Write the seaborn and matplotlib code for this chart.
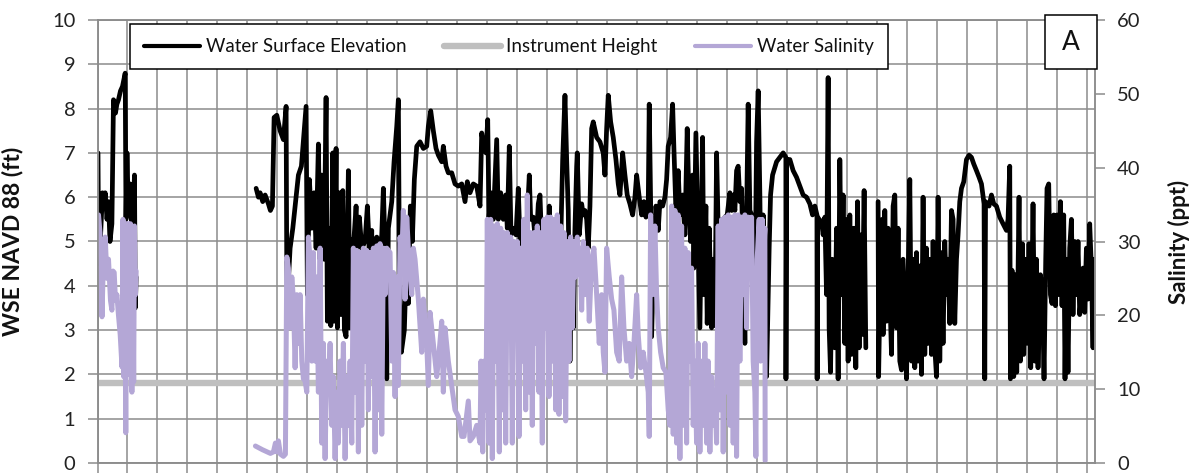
import numpy as np
import pandas as pd
import matplotlib
matplotlib.use("Agg")
import matplotlib.pyplot as plt
from matplotlib.lines import Line2D
from matplotlib.patches import Rectangle
import seaborn as sns

# ---------------- data (day, value) ----------------
# Water surface elevation (ft NAVD88)
wse_seg1 = [(0.05, 7.0), (0.12, 4.5), (0.3, 5.1), (0.5, 6.1), (0.62, 5.8), (0.77, 6.1), (0.95, 5.5),
            (1.1, 5.9), (1.25, 5.0), (1.44, 5.4), (1.6, 8.2), (1.8, 7.9), (1.94, 8.1), (2.1, 8.2),
            (2.3, 8.4), (2.5, 8.5), (2.77, 8.8), (2.85, 5.5), (2.95, 7.0), (3.1, 5.6), (3.27, 6.3),
            (3.4, 5.4), (3.54, 5.5), (3.7, 6.5), (3.78, 3.5), (3.87, 4.2)]

wse_seg2 = [(15.87, 6.2), (16.1, 6.0), (16.27, 6.1), (16.53, 5.9), (16.77, 6.05), (17.1, 5.85), (17.3, 5.7),
            (17.5, 5.8), (17.67, 7.8), (17.94, 7.85), (18.27, 7.5), (18.6, 7.3), (18.87, 8.05), (18.93, 4.7),
            (19.0, 3.7), (19.27, 4.85), (19.54, 5.3), (19.77, 5.8), (20.1, 6.5), (20.4, 6.7), (20.87, 8.05),
            (21.0, 3.8), (21.2, 6.4), (21.44, 5.3), (21.67, 6.1), (21.87, 4.85), (22.1, 7.2), (22.27, 4.6),
            (22.44, 6.5), (22.67, 4.6), (22.87, 8.25), (23.0, 3.2), (23.2, 5.3), (23.34, 3.1), (23.54, 7.0),
            (23.67, 3.2), (23.87, 7.1), (24.0, 3.05), (24.2, 6.1), (24.34, 3.35), (24.54, 6.15), (24.7, 3.0),
            (24.87, 2.85), (25.1, 6.6), (25.27, 3.05), (25.44, 5.05), (25.6, 4.85), (25.87, 5.8), (26.0, 4.85),
            (26.2, 5.55), (26.44, 4.85), (26.77, 5.0), (27.0, 5.8), (27.2, 4.85), (27.44, 5.25), (27.45, 2.8),
            (27.67, 5.0), (27.94, 5.1), (28.2, 4.7), (28.44, 5.15), (28.6, 6.2), (28.77, 4.85), (28.94, 1.9),
            (29.1, 5.3), (29.44, 5.9), (29.67, 6.8), (29.94, 7.6), (30.1, 8.2), (30.2, 4.6), (30.4, 2.5),
            (30.7, 3.0), (30.9, 4.5), (31.1, 3.6), (31.3, 5.8), (31.5, 5.0), (31.7, 6.4), (31.94, 7.15),
            (32.27, 7.25), (32.6, 7.1), (32.94, 7.15), (33.1, 7.6), (33.34, 7.95), (33.6, 7.5), (33.87, 7.1),
            (34.1, 6.95), (34.44, 6.8), (34.6, 7.15), (34.87, 6.7), (35.1, 6.55), (35.44, 6.55), (35.77, 6.3),
            (36.1, 6.25), (36.44, 6.3), (36.77, 5.9), (37.0, 6.35), (37.27, 6.1), (37.6, 6.3), (37.94, 6.25),
            (38.27, 5.8), (38.44, 7.45), (38.67, 7.1), (38.87, 7.0), (39.04, 7.75), (39.17, 5.55), (39.37, 6.1),
            (39.6, 5.5), (39.94, 7.3), (40.1, 5.5), (40.34, 6.1), (40.6, 5.5), (40.84, 6.05), (41.0, 5.3),
            (41.2, 7.15), (41.37, 5.15), (41.6, 5.3), (41.87, 5.15), (42.1, 6.2), (42.27, 5.0), (42.54, 4.85),
            (42.77, 5.15), (43.0, 5.55), (43.2, 6.5), (43.34, 5.5), (43.6, 5.55), (43.87, 4.85), (44.1, 5.85),
            (44.27, 6.05), (44.44, 4.95), (44.6, 5.15), (44.94, 5.5), (45.1, 3.4), (45.2, 5.8), (45.44, 3.2),
            (45.67, 4.1), (45.87, 5.3), (46.1, 5.35), (46.34, 4.95), (46.54, 6.85), (46.77, 8.3), (46.94, 6.85),
            (47.1, 5.7), (47.27, 2.3), (47.44, 4.6), (47.6, 3.05), (47.77, 5.3), (47.94, 6.7), (48.0, 7.0),
            (48.2, 5.15), (48.44, 5.85), (48.6, 5.6), (48.77, 5.7), (48.94, 5.5), (49.1, 4.85), (49.27, 5.8),
            (49.44, 7.55), (49.6, 7.7), (49.94, 7.35), (50.27, 7.25), (50.6, 7.0), (50.77, 6.5), (50.94, 7.55),
            (51.1, 8.3), (51.34, 7.7), (51.6, 7.35), (51.87, 6.85), (52.1, 6.3), (52.27, 6.05), (52.54, 7.0),
            (52.77, 6.5), (53.0, 6.05), (53.27, 5.85), (53.54, 5.6), (53.77, 6.0), (53.94, 6.5), (54.2, 6.0),
            (54.44, 5.6), (54.67, 5.9), (54.87, 5.55), (55.1, 5.8), (55.2, 8.1), (55.34, 5.9), (55.44, 2.85),
            (55.6, 4.4), (55.87, 5.8), (56.1, 5.25), (56.27, 5.9), (56.54, 5.8), (56.77, 6.0), (56.94, 6.4),
            (57.1, 7.15), (57.34, 7.35), (57.54, 8.1), (57.67, 7.1), (57.87, 5.7), (58.1, 6.6), (58.27, 5.6),
            (58.54, 6.05), (58.77, 5.15), (59.0, 7.55), (59.2, 5.7), (59.34, 5.0), (59.54, 6.5), (59.67, 4.4),
            (59.87, 7.45), (60.1, 4.85), (60.27, 3.05), (60.54, 7.35), (60.67, 3.8), (60.87, 5.8), (61.0, 3.15),
            (61.2, 5.3), (61.44, 3.05), (61.6, 4.6), (61.77, 3.1), (61.94, 7.0), (62.1, 5.3), (62.27, 5.5),
            (62.54, 5.3), (62.77, 5.55), (63.0, 5.6), (63.27, 6.1), (63.44, 5.7), (63.6, 6.05), (63.77, 5.7),
            (63.94, 6.6), (64.1, 6.7), (64.27, 5.9), (64.44, 6.2), (64.67, 3.8), (64.77, 2.7), (64.94, 5.6),
            (65.1, 8.1), (65.27, 5.7), (65.54, 5.55), (65.77, 3.7), (65.94, 7.25), (66.1, 8.4), (66.27, 6.05),
            (66.44, 2.9), (66.6, 5.6), (66.77, 4.6), (66.94, 1.95), (67.2, 4.85), (67.34, 6.05), (67.54, 6.5),
            (67.94, 6.8), (68.27, 6.9), (68.6, 7.0), (68.87, 6.9), (68.88, 1.9), (68.95, 6.85), (69.27, 6.85),
            (69.6, 6.6), (69.94, 6.45), (70.27, 6.25), (70.6, 6.05), (70.94, 6.0), (71.27, 5.85), (71.54, 5.6),
            (71.77, 5.8), (71.98, 5.6), (72.0, 1.9), (72.05, 5.55), (72.2, 5.5), (72.44, 5.45), (72.6, 5.15),
            (72.77, 5.55), (72.94, 3.8), (73.1, 8.7), (73.2, 3.05), (73.34, 2.05), (73.5, 4.6), (73.77, 2.6),
            (73.94, 5.3), (74.1, 1.9), (74.27, 6.85), (74.44, 3.8), (74.6, 6.05), (74.77, 2.7), (74.94, 5.5),
            (75.1, 2.3), (75.27, 5.6), (75.44, 2.45), (75.67, 5.3), (75.87, 2.15), (76.04, 5.9), (76.2, 2.6),
            (76.34, 5.15), (76.5, 2.9), (76.7, 6.15), (76.87, 2.6)]

wse_seg3 = [(78.1, 5.9), (78.15, 1.95), (78.3, 4.0), (78.5, 5.5), (78.6, 2.9), (78.77, 5.7), (78.94, 3.2),
            (79.1, 5.3), (79.27, 3.8), (79.44, 2.45), (79.6, 5.8), (79.77, 6.05), (79.94, 3.05), (80.1, 5.3),
            (80.27, 2.3), (80.44, 2.1), (80.6, 4.6), (80.94, 1.9), (81.1, 4.2), (81.27, 6.4), (81.44, 2.3),
            (81.6, 4.6), (81.77, 2.15), (81.94, 4.75), (82.1, 2.3), (82.27, 4.45), (82.44, 2.0), (82.6, 6.0),
            (82.77, 2.45), (82.94, 4.85), (83.1, 2.7), (83.27, 4.6), (83.44, 2.45), (83.6, 5.0), (83.77, 2.6),
            (83.94, 1.95), (84.1, 6.0), (84.27, 2.3), (84.44, 4.75), (84.6, 2.7), (84.77, 5.0), (84.94, 3.8),
            (85.1, 4.6), (85.27, 3.15), (85.44, 5.7), (85.6, 5.5), (85.77, 3.15), (85.94, 4.6), (86.1, 5.15),
            (86.27, 5.9), (86.44, 6.2), (86.67, 6.35), (86.94, 6.85), (87.2, 6.95), (87.44, 6.9), (87.67, 6.75),
            (87.94, 6.6), (88.2, 6.45), (88.44, 6.3), (88.7, 5.85), (88.77, 1.9), (88.85, 5.9), (89.2, 5.8),
            (89.44, 6.05), (89.67, 5.85), (89.94, 5.8), (90.27, 5.55), (90.6, 5.4), (90.94, 5.25), (91.1, 5.5),
            (91.27, 6.7), (91.34, 1.9), (91.5, 4.35), (91.67, 1.95), (91.84, 4.25), (91.97, 2.05), (92.2, 6.0),
            (92.34, 2.3), (92.54, 4.95), (92.67, 2.45), (92.87, 4.6), (93.04, 2.7), (93.2, 4.95), (93.37, 2.15),
            (93.6, 5.85), (93.77, 2.3), (93.94, 4.6), (94.1, 2.15), (94.34, 4.25), (94.54, 3.8), (94.7, 1.9),
            (94.87, 4.6), (95.0, 6.2), (95.17, 6.3), (95.34, 3.8), (95.5, 3.6), (95.67, 5.6), (95.84, 3.55),
            (96.0, 5.6), (96.17, 3.8), (96.34, 5.9), (96.5, 3.55), (96.67, 5.6), (96.8, 1.9), (96.94, 4.6),
            (97.1, 2.05), (97.27, 4.85), (97.44, 5.5), (97.6, 3.35), (97.77, 5.0), (97.94, 3.8), (98.1, 5.0),
            (98.27, 3.35), (98.44, 3.8), (98.6, 4.4), (98.77, 3.4), (98.94, 4.85), (99.1, 3.7), (99.27, 5.4),
            (99.44, 4.4), (99.6, 2.6), (99.67, 4.6)]

# Water salinity (ppt)
sal_seg1 = [(0.1, 33.6), (0.25, 31.2), (0.45, 19.8), (0.6, 28.0), (0.77, 30.6), (0.95, 25.0), (1.1, 27.6),
            (1.3, 22.0), (1.44, 20.7), (1.55, 26.0), (1.67, 25.8), (1.8, 22.0), (1.94, 22.8), (2.1, 20.0),
            (2.27, 17.4), (2.45, 13.0), (2.55, 33.0), (2.62, 11.7), (2.7, 31.0), (2.83, 4.1), (2.93, 32.4),
            (3.02, 12.0), (3.1, 32.4), (3.2, 13.8), (3.3, 32.4), (3.44, 9.6), (3.52, 31.5), (3.62, 11.0),
            (3.7, 32.1), (3.8, 22.8), (3.87, 26.0)]

sal_seg2 = [(15.8, 2.3), (16.5, 1.8), (17.3, 1.3), (17.6, 1.5), (17.8, 2.7), (17.95, 1.5), (18.1, 3.0),
            (18.3, 1.2), (18.6, 0.9), (18.8, 1.2), (18.94, 27.9), (19.1, 26.4), (19.27, 18.3), (19.44, 25.2),
            (19.6, 22.2), (19.77, 12.9), (19.94, 22.8), (20.1, 16.2), (20.27, 22.8), (20.44, 13.8), (20.6, 11.4),
            (20.77, 11.1), (20.94, 9.6), (21.1, 30.6), (21.27, 27.6), (21.44, 13.8), (21.6, 28.5), (21.77, 13.8),
            (21.94, 25.2), (22.1, 9.6), (22.27, 29.1), (22.44, 2.7), (22.6, 16.2), (22.77, 0.6), (22.94, 13.8),
            (23.1, 9.6), (23.27, 16.2), (23.44, 5.1), (23.6, 11.7), (23.77, 0.6), (23.94, 9.6), (24.1, 2.7),
            (24.27, 13.8), (24.44, 5.1), (24.6, 16.2), (24.77, 0.6), (24.94, 11.7), (25.1, 5.1), (25.27, 13.8),
            (25.44, 2.7), (25.6, 29.1), (25.77, 9.6), (25.94, 28.8), (26.1, 1.5), (26.27, 28.5), (26.44, 5.1),
            (26.6, 29.1), (26.77, 13.8), (26.94, 28.8), (27.1, 7.2), (27.27, 28.5), (27.44, 11.7), (27.6, 29.1),
            (27.77, 1.5), (27.94, 29.4), (28.1, 7.2), (28.27, 29.7), (28.44, 3.9), (28.6, 29.1), (28.77, 22.8),
            (28.94, 29.1), (29.27, 28.5), (29.44, 13.8), (29.6, 25.8), (29.77, 9.0), (29.94, 25.2), (30.1, 10.5),
            (30.27, 30.6), (30.44, 27.6), (30.6, 34.2), (30.77, 22.2), (30.94, 33.3), (31.2, 26.4), (31.44, 22.8),
            (31.6, 29.1), (31.77, 27.6), (32.1, 22.2), (32.44, 15.0), (32.6, 22.2), (32.94, 16.2), (33.1, 10.5),
            (33.27, 20.4), (33.6, 16.2), (33.94, 11.7), (34.1, 13.8), (34.44, 19.2), (34.6, 9.6), (34.77, 18.3),
            (35.1, 13.8), (35.44, 10.5), (35.77, 7.2), (36.1, 6.3), (36.44, 3.6), (36.67, 3.6), (36.94, 6.6),
            (37.1, 8.4), (37.27, 3.0), (37.6, 3.6), (37.94, 5.1), (38.27, 2.7), (38.37, 13.8), (38.54, 1.5),
            (38.67, 13.8), (38.87, 7.2), (39.0, 33.0), (39.17, 2.7), (39.34, 33.0), (39.5, 0.6), (39.67, 32.1),
            (39.84, 13.8), (40.0, 32.4), (40.2, 1.5), (40.34, 31.8), (40.5, 7.2), (40.67, 31.2), (40.84, 2.7),
            (41.0, 31.2), (41.17, 17.7), (41.34, 30.6), (41.5, 2.7), (41.67, 30.0), (41.84, 18.3), (42.0, 30.0),
            (42.17, 3.6), (42.34, 29.1), (42.5, 13.8), (42.67, 33.0), (42.84, 7.2), (43.0, 36.3), (43.17, 9.6),
            (43.34, 31.2), (43.5, 5.1), (43.67, 31.2), (43.84, 16.2), (44.0, 32.1), (44.17, 9.6), (44.34, 31.2),
            (44.5, 2.7), (44.67, 33.0), (44.84, 18.3), (45.0, 33.3), (45.17, 9.0), (45.34, 33.3), (45.5, 13.8),
            (45.67, 33.0), (45.84, 7.2), (46.0, 33.6), (46.17, 6.6), (46.34, 32.1), (46.5, 9.0), (46.67, 31.2),
            (46.84, 5.7), (47.0, 30.0), (47.17, 13.8), (47.34, 30.6), (47.5, 18.3), (47.67, 30.0), (47.84, 25.2),
            (48.0, 30.6), (48.1, 25.8), (48.27, 29.1), (48.44, 20.7), (48.6, 30.0), (48.77, 22.8), (49.0, 29.1),
            (49.2, 19.2), (49.44, 27.6), (49.67, 29.1), (49.94, 22.8), (50.2, 16.2), (50.44, 22.8), (50.6, 15.0),
            (50.77, 12.3), (50.94, 29.1), (51.2, 25.2), (51.44, 22.2), (51.67, 20.7), (51.94, 15.0), (52.2, 13.8),
            (52.44, 25.2), (52.67, 18.3), (52.94, 13.8), (53.2, 16.2), (53.44, 11.7), (53.67, 16.2), (53.94, 22.8),
            (54.1, 17.4), (54.34, 12.9), (54.6, 15.0), (54.87, 12.3), (55.1, 9.6), (55.2, 3.6), (55.34, 33.6),
            (55.54, 22.8), (55.77, 32.1), (55.94, 22.8), (56.1, 18.3), (56.34, 15.0), (56.6, 12.9), (56.87, 12.3),
            (57.1, 7.2), (57.27, 5.1), (57.44, 34.8), (57.6, 3.9), (57.77, 34.2), (57.94, 2.7), (58.1, 33.6),
            (58.27, 0.6), (58.44, 32.1), (58.6, 5.1), (58.77, 29.1), (58.94, 2.7), (59.1, 28.5), (59.27, 13.8),
            (59.44, 26.4), (59.6, 5.1), (59.77, 13.8), (59.94, 2.7), (60.1, 16.2), (60.27, 1.5), (60.44, 13.8),
            (60.6, 5.1), (60.77, 16.2), (60.94, 2.7), (61.1, 13.8), (61.27, 1.5), (61.44, 11.7), (61.6, 5.1),
            (61.77, 9.6), (61.94, 2.7), (62.1, 32.1), (62.27, 7.2), (62.44, 33.0), (62.6, 1.5), (62.77, 33.3),
            (62.94, 9.6), (63.1, 33.6), (63.27, 5.1), (63.44, 33.3), (63.6, 2.7), (63.77, 33.6), (63.94, 0.9),
            (64.1, 33.6), (64.27, 13.8), (64.44, 33.3), (64.6, 22.8), (64.77, 33.6), (64.94, 18.3), (65.1, 33.3),
            (65.27, 27.6), (65.44, 33.3), (65.6, 13.8), (65.77, 9.6), (65.87, 0.9), (66.0, 27.6), (66.2, 33.0),
            (66.34, 13.8), (66.5, 33.0), (66.6, 27.6), (66.77, 31.8), (66.8, 0.3)]

# Instrument height (ft NAVD88)
inst_days = [0.0, 99.8]
inst_ft = [1.8, 1.8]

legend_labels = ["Water Surface Elevation", "Instrument Height", "Water Salinity"]
panel_label = "A"


def to_frame(segments, col):
    rows = []
    for i, seg in enumerate(segments):
        for d, v in seg:
            rows.append((i, d, v))
    return pd.DataFrame(rows, columns=["seg", "day", col])


wse_df = to_frame([wse_seg1, wse_seg2, wse_seg3], "wse")
sal_df = to_frame([sal_seg1, sal_seg2], "sal")
inst_df = pd.DataFrame({"seg": 0, "day": inst_days, "ft": inst_ft})

# ---------------- styling ----------------
sns.set_theme(style="white")
plt.rcParams["font.family"] = ["Lato", "DejaVu Sans"]

C_WSE = "#000000"
C_INST = "#bfbfbf"
C_SAL = "#b4a7d6"
C_GRID = "#8c8c8c"
LW_WSE, LW_INST, LW_SAL = 3.4, 4.6, 3.6

W, H = 1191, 476
fig = plt.figure(figsize=(W / 100, H / 100), dpi=100)
ax = fig.add_axes([97.5 / W, 13 / H, 997.5 / W, 443 / H])

sns.lineplot(data=inst_df, x="day", y="ft", units="seg", estimator=None, sort=False,
             color=C_INST, lw=LW_INST, ax=ax, legend=False)
sns.lineplot(data=wse_df, x="day", y="wse", units="seg", estimator=None, sort=False,
             color=C_WSE, lw=LW_WSE, ax=ax, legend=False)

ax2 = ax.twinx()
sns.lineplot(data=sal_df, x="day", y="sal", units="seg", estimator=None, sort=False,
             color=C_SAL, lw=LW_SAL, ax=ax2, legend=False)

ax.set_xlim(0, 99.8)
ax.set_ylim(0, 10)
ax.set_xticks(np.arange(0, 100, 3))
ax.set_xticklabels([])
ax.set_yticks(range(0, 11))
ax.grid(True, color=C_GRID, lw=1.1)
ax.set_axisbelow(True)
ax.set_xlabel("")
ax.set_ylabel("WSE NAVD 88 (ft)", fontsize=16.5, fontweight="bold", color="#111111")
ax.yaxis.set_label_coords(-0.074, 0.5)

ax2.set_ylim(0, 60)
ax2.set_yticks(range(0, 61, 10))
ax2.grid(False)
ax2.set_ylabel("Salinity (ppt)", fontsize=16, fontweight="bold", color="#111111")
ax2.yaxis.set_label_coords(1.0735, 0.5)

ax.tick_params(axis="y", left=True, direction="out", length=7, width=1.1, color=C_GRID,
               labelsize=14.5, pad=9, labelcolor="#222222")
ax.tick_params(axis="x", bottom=True, direction="out", length=7, width=1.1, color=C_GRID)
ax2.tick_params(axis="y", right=True, direction="out", length=7, width=1.1, color=C_GRID,
                labelsize=14.5, pad=9, labelcolor="#222222")
for a in (ax, ax2):
    for s in a.spines.values():
        s.set_color(C_GRID)
        s.set_linewidth(1.1)

handles = [Line2D([], [], color=C_WSE, lw=3.0),
           Line2D([], [], color=C_INST, lw=LW_INST),
           Line2D([], [], color=C_SAL, lw=3.0)]
leg = fig.legend(handles, legend_labels, loc="upper left",
                 bbox_to_anchor=(130 / W, 1 - 24 / H, 758 / W, 0), mode="expand",
                 ncol=3, frameon=True, fancybox=False, edgecolor="black", framealpha=1,
                 fontsize=13.5, handlelength=3.0, handletextpad=0.3, borderpad=0.75,
                 borderaxespad=0)
leg.get_frame().set_linewidth(1.1)
for t in leg.get_texts():
    t.set_color("#111111")

fig.add_artist(Rectangle((1045 / W, 1 - 69 / H), 52 / W, 54 / H, transform=fig.transFigure,
                         facecolor="white", edgecolor="black", lw=1.1, zorder=5))
fig.text(1071 / W, 1 - 42 / H, panel_label, ha="center", va="center", fontsize=19,
         color="#111111", zorder=6)

fig.savefig("out.png", dpi=100)
